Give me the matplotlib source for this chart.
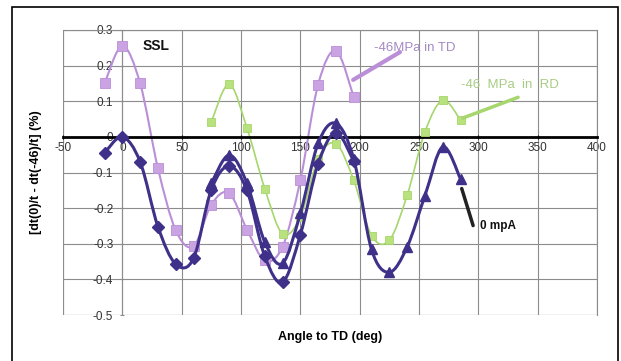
import numpy as np
import matplotlib
matplotlib.use('Agg')
import matplotlib.pyplot as plt
from matplotlib.path import Path
from matplotlib.patches import PathPatch, Rectangle

plt.rcParams['font.family'] = ['Liberation Sans', 'DejaVu Sans']

# data
td_x = [-15, 0, 15, 30, 45, 60, 75, 90, 105, 120, 135, 150, 165, 180, 195]
td_y = [0.15, 0.255, 0.15, -0.088, -0.262, -0.307, -0.19, -0.158, -0.26, -0.347, -0.308, -0.122, 0.147, 0.242, 0.112]

rd_x = [75, 90, 105, 120, 135, 150, 165, 180, 195, 210, 225, 240, 255, 270, 285]
rd_y = [0.042, 0.148, 0.025, -0.145, -0.272, -0.225, -0.061, -0.019, -0.122, -0.277, -0.29, -0.164, 0.014, 0.103, 0.047]

zero_a_x = [-15, 0, 15, 30, 45, 60, 75, 90, 105, 120, 135, 150, 165, 180, 195]
zero_a_y = [-0.045, 0.0, -0.07, -0.252, -0.357, -0.341, -0.148, -0.082, -0.15, -0.335, -0.408, -0.275, -0.075, 0.012, -0.068]

zero_b_x = [75, 90, 105, 120, 135, 150, 165, 180, 195, 210, 225, 240, 255, 270, 285]
zero_b_y = [-0.13, -0.051, -0.13, -0.295, -0.355, -0.215, -0.018, 0.038, -0.062, -0.316, -0.38, -0.309, -0.165, -0.028, -0.118]

x_ticks = [-50, 0, 50, 100, 150, 200, 250, 300, 350, 400]
y_ticks = [-0.5, -0.4, -0.3, -0.2, -0.1, 0, 0.1, 0.2, 0.3]

navy = '#3f3189'
lilac = '#bb8fd8'
lilac_m = '#c9a3e2'
green = '#a6d66c'
green_m = '#b9e27e'


def smooth_path(xs, ys):
    # Excel-like smoothed line: Bezier segments through each point
    p = np.column_stack([xs, ys]).astype(float)
    n = len(p)
    verts = [p[0]]
    codes = [Path.MOVETO]
    for i in range(n - 1):
        p0 = p[i - 1] if i > 0 else p[i]
        p3 = p[i + 2] if i + 2 < n else p[i + 1]
        c1 = p[i] + (p[i + 1] - p0) / 6.0
        c2 = p[i + 1] - (p3 - p[i]) / 6.0
        verts += [c1, c2, p[i + 1]]
        codes += [Path.CURVE4] * 3
    return Path(verts, codes)


fig = plt.figure(figsize=(6.21, 3.61), dpi=100)
ax = fig.add_axes([63 / 621, 1 - 315 / 361, 534 / 621, 285 / 361])

ax.set_xlim(-50, 400)
ax.set_ylim(-0.5, 0.3)
ax.set_xticks(x_ticks)
ax.set_yticks(y_ticks)
ax.set_xticklabels([str(v) for v in x_ticks])
ax.set_yticklabels(['-0.5', '-0.4', '-0.3', '-0.2', '-0.1', '0', '0.1', '0.2', '0.3'])
ax.grid(True, color='#8c8c8c', linewidth=0.8)
ax.set_axisbelow(True)

for s in ['top', 'right']:
    ax.spines[s].set_color('#8c8c8c')
    ax.spines[s].set_linewidth(0.8)
ax.spines['left'].set_position(('data', 0))
ax.spines['left'].set_color('#8c8c8c')
ax.spines['left'].set_linewidth(0.8)
ax.spines['bottom'].set_position(('data', 0))
ax.spines['bottom'].set_color('black')
ax.spines['bottom'].set_linewidth(2)
ax.add_patch(Rectangle((0, 0), 1, 1, transform=ax.transAxes, fill=False,
                       edgecolor='#8c8c8c', linewidth=0.8, zorder=0.5))
ax.tick_params(axis='both', labelsize=8.5, colors='#333333', length=3, pad=2)
ax.tick_params(axis='x', direction='inout', color='black')
ax.tick_params(axis='y', direction='inout', color='#8c8c8c', pad=5)

# lines
ax.add_patch(PathPatch(smooth_path(rd_x, rd_y), fill=False, edgecolor=green, linewidth=1.2, zorder=2))
ax.plot(rd_x, rd_y, linestyle='none', marker='s', markersize=6, color=green_m,
        markeredgecolor=green, markeredgewidth=0.6, zorder=3)

ax.add_patch(PathPatch(smooth_path(td_x, td_y), fill=False, edgecolor=lilac, linewidth=1.5, zorder=2))
ax.plot(td_x, td_y, linestyle='none', marker='s', markersize=7, color=lilac_m,
        markeredgecolor=lilac, markeredgewidth=0.6, zorder=3)

ax.add_patch(PathPatch(smooth_path(zero_a_x, zero_a_y), fill=False, edgecolor=navy, linewidth=2.2, zorder=4))
ax.plot(zero_a_x, zero_a_y, linestyle='none', marker='D', markersize=6, color=navy, zorder=5)

ax.add_patch(PathPatch(smooth_path(zero_b_x, zero_b_y), fill=False, edgecolor=navy, linewidth=2.2, zorder=4))
ax.plot(zero_b_x, zero_b_y, linestyle='none', marker='^', markersize=7, color=navy, zorder=5)

# labels and callouts
ax.text(17, 0.245, 'SSL', fontsize=10, fontweight='bold', color='#111111')
ax.set_xlabel('Angle to TD (deg)', fontsize=9, fontweight='bold', labelpad=0)
ax.xaxis.set_label_coords(0.5, -0.055)
ax.set_ylabel('[dt(0)/t - dt(-46)/t] (%)', fontsize=9, fontweight='bold')
ax.yaxis.set_label_coords(-0.04, 0.5)

ax.text(212, 0.25, '-46MPa in TD', fontsize=9.5, color='#a58ac4', va='center', ha='left')
ax.annotate('', xy=(194.5, 0.16), xytext=(234, 0.238),
            arrowprops=dict(arrowstyle='-', color=lilac, linewidth=3, shrinkA=0, shrinkB=0))
ax.text(285, 0.145, '-46  MPa  in  RD', fontsize=9.5, color='#a9cc84', va='center', ha='left')
ax.annotate('', xy=(287, 0.053), xytext=(333.5, 0.111),
            arrowprops=dict(arrowstyle='-', color=green, linewidth=2.5, shrinkA=0, shrinkB=0))
ax.text(301, -0.251, '0 mpA', fontsize=8.5, fontweight='bold', color='#111111', va='center', ha='left')
ax.annotate('', xy=(286, -0.145), xytext=(295.6, -0.249),
            arrowprops=dict(arrowstyle='-', color='#222222', linewidth=2.5, shrinkA=0, shrinkB=0))

# outer chart border
fig.patches.append(Rectangle((12 / 621, -0.1), 606 / 621, 1.1 - 7 / 361,
                             transform=fig.transFigure, fill=False,
                             edgecolor='black', linewidth=1.2))

fig.savefig('out.png', dpi=100)
